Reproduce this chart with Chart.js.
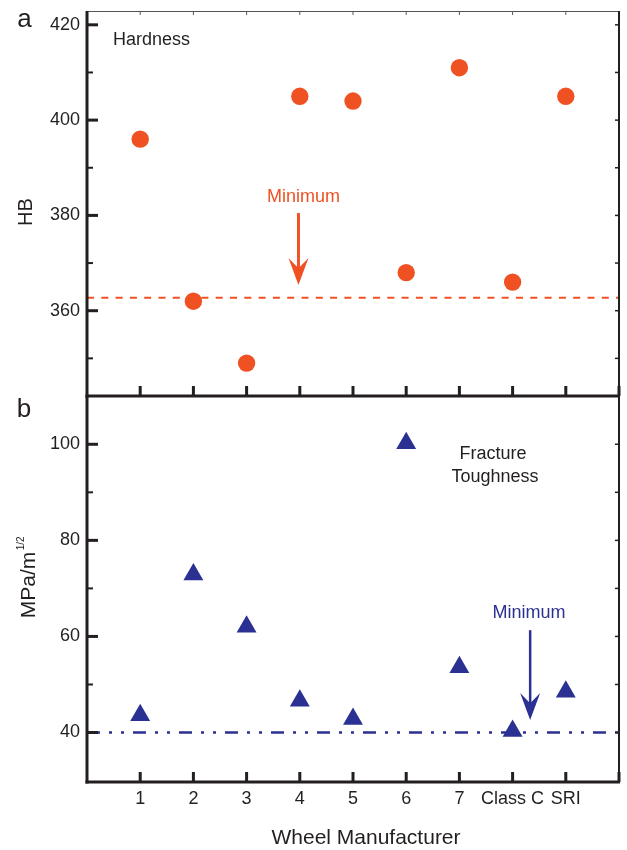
<!DOCTYPE html>
<html>
<head>
<meta charset="utf-8">
<script src="https://cdn.jsdelivr.net/npm/chart.js@4.4.1/dist/chart.umd.min.js"></script>
<style>
  html, body { margin: 0; padding: 0; background: #ffffff; }
  #wrap { position: relative; width: 627px; height: 850px; }
  canvas { position: absolute; left: 0; top: 0; }
</style>
</head>
<body>
<div id="wrap">
  <canvas id="hb" width="627" height="850"></canvas>
  <canvas id="kt" width="627" height="850"></canvas>
</div>
<script>
// ---------- data ----------
const categories = ['1', '2', '3', '4', '5', '6', '7', 'Class C', 'SRI'];
const hardness = [396, 362, 349, 405, 404, 368, 411, 366, 405];          // HB
const toughness = [43.6, 72.9, 62.0, 46.6, 42.8, 100.2, 53.6, 40.3, 48.5]; // MPa/m^1/2
const hbMinimum = 362.7;
const ktMinimum = 40;
const hbTickLabels = [360, 380, 400, 420];
const hbMinorTicks = [350, 370, 390, 410];
const ktTickLabels = [40, 60, 80, 100];
const ktMinorTicks = [50, 70, 90];

// ---------- style ----------
const INK = '#231F20';
const ORANGE = '#EF5123';
const NAVY = '#2B3192';
const FONT = "'Liberation Sans', Arial, Helvetica, sans-serif";
Chart.defaults.font.family = FONT;
Chart.defaults.color = INK;

const xMin = 0, xMax = 10;
const xTickValues = [1, 2, 3, 4, 5, 6, 7, 8, 9, 10];

function pts(values) { return values.map((v, i) => ({ x: i + 1, y: v })); }
function hline(v) { return [{ x: xMin, y: v }, { x: xMax, y: v }]; }

function seg(ctx, x1, y1, x2, y2, w, color) {
  ctx.beginPath();
  ctx.lineWidth = w;
  ctx.strokeStyle = color;
  ctx.moveTo(x1, y1);
  ctx.lineTo(x2, y2);
  ctx.stroke();
}

function arrow(ctx, x, y1, y2, color, shaftW, headW, headH) {
  ctx.save();
  seg(ctx, x, y1, x, y2 - headH * 0.6, shaftW, color);
  ctx.beginPath();
  ctx.fillStyle = color;
  ctx.moveTo(x, y2);
  ctx.lineTo(x - headW / 2, y2 - headH);
  ctx.lineTo(x, y2 - headH * 0.62);
  ctx.lineTo(x + headW / 2, y2 - headH);
  ctx.closePath();
  ctx.fill();
  ctx.restore();
}

function text(ctx, str, x, y, size, color, align) {
  ctx.save();
  ctx.font = size + 'px ' + FONT;
  ctx.fillStyle = color;
  ctx.textAlign = align || 'center';
  ctx.textBaseline = 'middle';
  ctx.fillText(str, x, y);
  ctx.restore();
}

function zeroPad(s) { s.paddingTop = 0; s.paddingBottom = 0; s.paddingLeft = 0; s.paddingRight = 0; }

// frame + inward tick marks drawn from the scales
function drawFrame(chart, cfg) {
  const { ctx, chartArea: a, scales } = chart;
  const x = scales.x, y = scales.y;
  ctx.save();
  ctx.lineCap = 'butt';
  if (cfg.topBorder) {
    seg(ctx, a.left, a.top + 0.5, a.right, a.top + 0.5, 1, '#555');
    xTickValues.slice(0, 9).forEach(v => {
      const px = x.getPixelForValue(v);
      seg(ctx, px, a.top, px, a.top + 4, 1, '#555');
    });
  }
  // right border + inward ticks
  seg(ctx, a.right, a.top, a.right, a.bottom, 2, INK);
  cfg.major.concat(cfg.minor).forEach(v => {
    const py = y.getPixelForValue(v);
    seg(ctx, a.right, py, a.right - 4, py, 1.5, INK);
  });
  // bottom axis + upward ticks
  seg(ctx, a.left - 1.5, a.bottom, a.right + 1, a.bottom, 3, INK);
  xTickValues.forEach(v => {
    const px = x.getPixelForValue(v);
    seg(ctx, px, a.bottom, px, a.bottom - 10, 3, INK);
  });
  // left axis + ticks
  seg(ctx, a.left, a.top, a.left, a.bottom + 1.5, 3, INK);
  cfg.major.forEach(v => {
    const py = y.getPixelForValue(v);
    seg(ctx, a.left, py, a.left + 11, py, 3, INK);
  });
  cfg.minor.forEach(v => {
    const py = y.getPixelForValue(v);
    seg(ctx, a.left, py, a.left + 6, py, 2, INK);
  });
  ctx.restore();
}

const hbPlugin = {
  id: 'hbDecor',
  afterDatasetsDraw(chart) {
    const { ctx, scales: { x, y } } = chart;
    arrow(ctx, x.getPixelForValue(3.975), y.getPixelForValue(380.5), y.getPixelForValue(365.4), ORANGE, 3, 20, 27);
    text(ctx, 'Minimum', x.getPixelForValue(4.07), y.getPixelForValue(383.9), 18, ORANGE);
    text(ctx, 'Hardness', x.getPixelForValue(0.487), y.getPixelForValue(416.85), 18, INK, 'left');
  },
  afterDraw(chart) {
    const { ctx } = chart;
    drawFrame(chart, { topBorder: true, major: hbTickLabels, minor: hbMinorTicks });
    text(ctx, 'a', 24.5, 20, 26, INK);
    ctx.save();
    ctx.font = '20px ' + FONT;
    ctx.fillStyle = INK;
    ctx.translate(31.7, 212);
    ctx.rotate(-Math.PI / 2);
    ctx.textAlign = 'center';
    ctx.textBaseline = 'alphabetic';
    ctx.fillText('HB', 0, 0);
    ctx.restore();
  }
};

const ktPlugin = {
  id: 'ktDecor',
  afterDatasetsDraw(chart) {
    const { ctx, scales: { x, y } } = chart;
    arrow(ctx, x.getPixelForValue(8.33), y.getPixelForValue(61.3), y.getPixelForValue(42.6), NAVY, 2.5, 20, 27);
    text(ctx, 'Minimum', x.getPixelForValue(8.31), y.getPixelForValue(64.85), 18, NAVY);
    text(ctx, 'Fracture', x.getPixelForValue(7.63), y.getPixelForValue(98.0), 18, INK);
    text(ctx, 'Toughness', x.getPixelForValue(7.67), y.getPixelForValue(93.25), 18, INK);
  },
  afterDraw(chart) {
    const { ctx } = chart;
    drawFrame(chart, { topBorder: false, major: ktTickLabels, minor: ktMinorTicks });
    text(ctx, 'b', 24, 410, 26, INK);
    // y title with superscript
    ctx.save();
    ctx.fillStyle = INK;
    ctx.translate(35, 618.3);
    ctx.rotate(-Math.PI / 2);
    ctx.textAlign = 'left';
    ctx.textBaseline = 'alphabetic';
    ctx.font = '21px ' + FONT;
    ctx.fillText('MPa/m', 0, 0);
    const w = ctx.measureText('MPa/m').width;
    ctx.font = '10px ' + FONT;
    ctx.fillText('1/2', w + 1.5, -11);
    ctx.restore();
    text(ctx, 'Wheel Manufacturer', 366, 838, 21, INK);
  }
};

function yScale(min, max, labels) {
  return {
    type: 'linear',
    min: min, max: max,
    afterFit(s) { s.width = 87; zeroPad(s); },
    afterBuildTicks(s) { s.ticks = labels.map(v => ({ value: v })); },
    grid: { display: false, drawTicks: false },
    border: { display: false },
    ticks: { padding: 7, font: { size: 18 }, color: INK }
  };
}

new Chart(document.getElementById('hb'), {
  type: 'scatter',
  data: {
    datasets: [
      { label: 'Hardness', data: pts(hardness), pointStyle: 'circle', pointRadius: 8.7,
        backgroundColor: ORANGE, borderColor: ORANGE, borderWidth: 0, showLine: false },
      { label: 'Minimum', data: hline(hbMinimum), showLine: true, pointRadius: 0,
        borderColor: ORANGE, borderWidth: 2, borderDash: [7, 7.3], fill: false }
    ]
  },
  options: {
    responsive: false, animation: false, events: [],
    layout: { autoPadding: false, padding: { left: 0, top: 11, right: 8, bottom: 454 } },
    plugins: { legend: { display: false }, tooltip: { enabled: false } },
    scales: {
      x: { type: 'linear', min: xMin, max: xMax, display: false },
      y: yScale(342.1, 422.9, hbTickLabels)
    }
  },
  plugins: [hbPlugin]
});

new Chart(document.getElementById('kt'), {
  type: 'scatter',
  data: {
    datasets: [
      { label: 'Fracture Toughness', data: pts(toughness), pointStyle: 'triangle', pointRadius: 11.5,
        backgroundColor: NAVY, borderColor: NAVY, borderWidth: 0, showLine: false },
      { label: 'Minimum', data: hline(ktMinimum), showLine: true, pointRadius: 0,
        borderColor: NAVY, borderWidth: 2.5, borderDash: [13, 9, 3, 9, 3, 9], fill: false }
    ]
  },
  options: {
    responsive: false, animation: false, events: [],
    layout: { autoPadding: false, padding: { left: 0, top: 396, right: 8, bottom: 0 } },
    plugins: { legend: { display: false }, tooltip: { enabled: false } },
    scales: {
      x: {
        type: 'linear', min: xMin, max: xMax,
        afterFit(s) { s.height = 68; zeroPad(s); },
        afterBuildTicks(s) { s.ticks = categories.map((c, i) => ({ value: i + 1 })); },
        grid: { display: false, drawTicks: false },
        border: { display: false },
        ticks: {
          padding: 6, font: { size: 18 }, color: INK, autoSkip: false, maxRotation: 0,
          callback: (v, i) => categories[i]
        }
      },
      y: yScale(29.7, 110.05, ktTickLabels)
    }
  },
  plugins: [ktPlugin]
});
</script>
</body>
</html>
